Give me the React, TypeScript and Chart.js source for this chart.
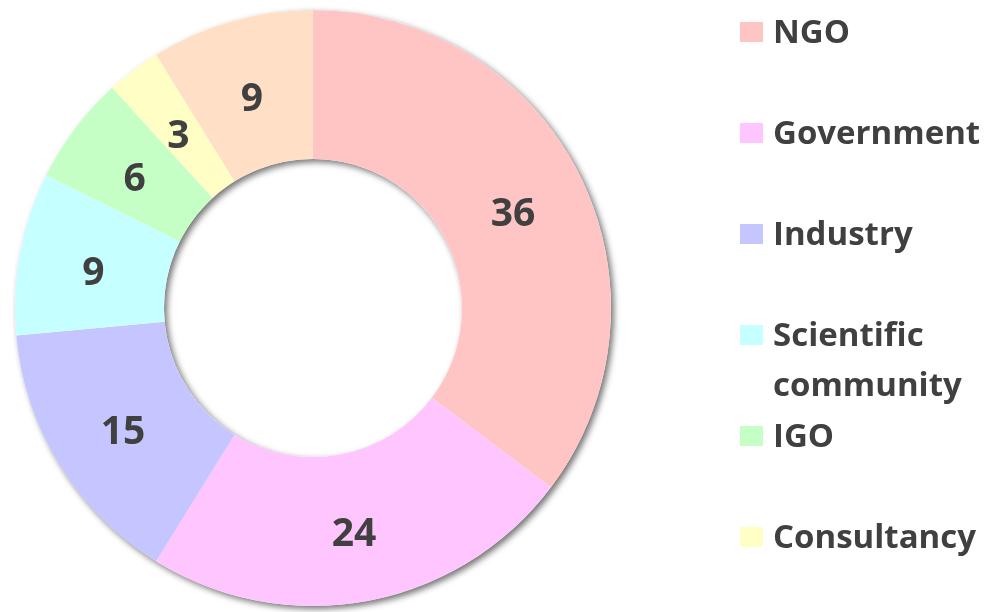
import React, { useEffect, useRef } from "react";
import { Chart, registerables } from "chart.js";

Chart.register(...registerables);

const categories: string[][] = [
  ["NGO"],
  ["Government"],
  ["Industry"],
  ["Scientific", "community"],
  ["IGO"],
  ["Consultancy"],
  ["Other"],
];
const values: number[] = [36, 24, 15, 9, 6, 3, 9];
const colors: string[] = [
  "#FFC5C5",
  "#FFC5FF",
  "#C5C5FF",
  "#C5FFFF",
  "#C5FFC5",
  "#FFFFC5",
  "#FFDFC5",
];

const FONT = "'Open Sans', 'Noto Sans', sans-serif";
const TEXT = "#404040";

const shadowPlugin = {
  id: "ringShadow",
  beforeDatasetsDraw(chart: any) {
    const meta = chart.getDatasetMeta(0);
    const arc = meta.data[0];
    if (!arc) return;
    const { x, y, outerRadius, innerRadius } = arc.getProps(
      ["x", "y", "outerRadius", "innerRadius"],
      true
    );
    const ctx = chart.ctx;
    ctx.save();
    ctx.shadowColor = "rgba(0,0,0,0.55)";
    ctx.shadowBlur = 6;
    ctx.shadowOffsetX = 3;
    ctx.shadowOffsetY = 3;
    ctx.beginPath();
    ctx.arc(x, y, outerRadius, 0, Math.PI * 2);
    ctx.arc(x, y, innerRadius, 0, Math.PI * 2, true);
    ctx.closePath();
    ctx.fillStyle = "#ffffff";
    ctx.fill();
    ctx.restore();
  },
};

const labelPlugin = {
  id: "sliceLabels",
  afterDatasetsDraw(chart: any) {
    const meta = chart.getDatasetMeta(0);
    const ctx = chart.ctx;
    ctx.save();
    ctx.font = `bold 39px ${FONT}`;
    ctx.fillStyle = TEXT;
    ctx.textAlign = "center";
    ctx.textBaseline = "middle";
    meta.data.forEach((el: any, i: number) => {
      const p = el.tooltipPosition();
      ctx.fillText(String(values[i]), p.x, p.y + 7);
    });
    ctx.restore();
  },
};

export default function App() {
  const ref = useRef<HTMLCanvasElement | null>(null);
  useEffect(() => {
    if (!ref.current) return;
    const chart = new Chart(ref.current, {
      type: "doughnut",
      data: {
        labels: categories.map((c) => c.join(" ")),
        datasets: [
          {
            data: values,
            backgroundColor: colors,
            borderWidth: 0,
          },
        ],
      },
      options: {
        animation: false,
        responsive: false,
        maintainAspectRatio: false,
        cutout: "50%",
        layout: { padding: { left: 15, top: 10, right: 379, bottom: 6 } },
        plugins: {
          legend: { display: false },
          tooltip: { enabled: false },
        },
      },
      plugins: [shadowPlugin, labelPlugin],
    });
    return () => chart.destroy();
  }, []);

  return (
    <div
      style={{
        position: "fixed",
        left: 0,
        top: 0,
        width: 990,
        height: 612,
        overflow: "hidden",
        background: "#fff",
      }}
    >
      <canvas
        ref={ref}
        width={990}
        height={612}
        style={{ position: "absolute", left: 0, top: 0, width: 990, height: 612 }}
      />
      <div style={{ position: "absolute", left: 740, top: 0, width: 250 }}>
        {categories.map((c, i) => (
          <div
            key={i}
            style={{
              position: "absolute",
              left: 0,
              top: 32 + i * 101 - 20,
              display: "flex",
              alignItems: "flex-start",
              fontFamily: FONT,
              fontWeight: 700,
              fontSize: 33,
              lineHeight: "50px",
              color: TEXT,
              whiteSpace: "nowrap",
              marginTop: -6,
            }}
          >
            <span
              style={{
                width: 23,
                height: 20,
                background: colors[i],
                marginTop: 16,
                marginRight: 10,
                flexShrink: 0,
              }}
            />
            <span>
              {c.map((line, j) => (
                <div key={j}>{line}</div>
              ))}
            </span>
          </div>
        ))}
      </div>
    </div>
  );
}
